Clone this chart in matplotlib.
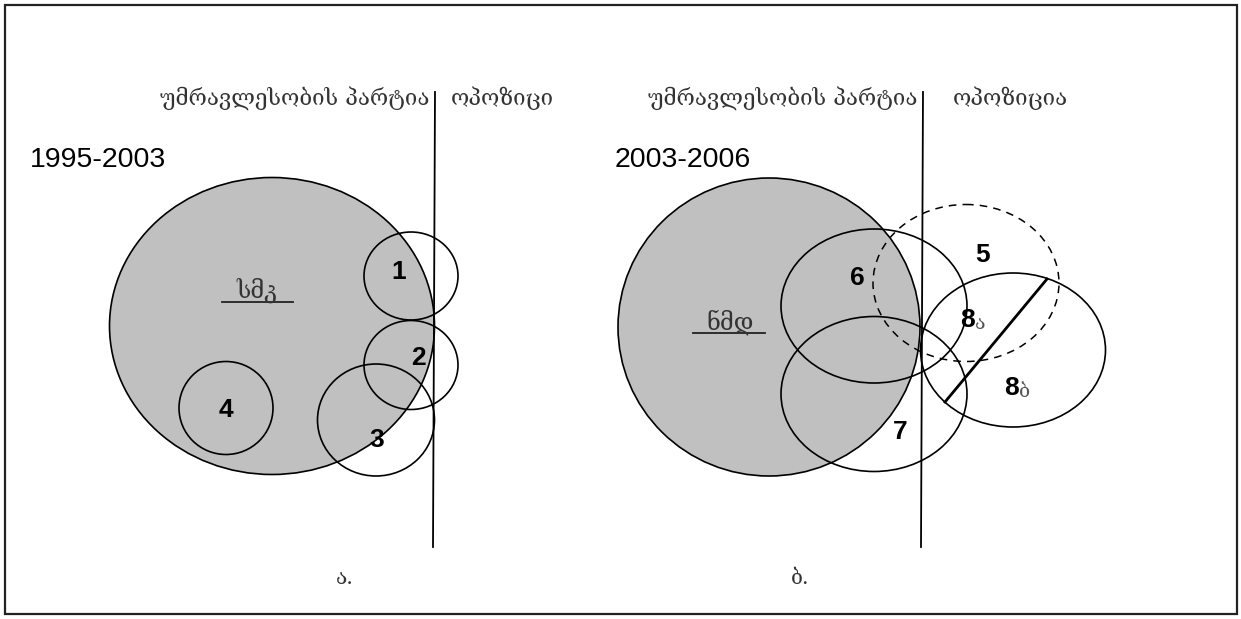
import matplotlib.pyplot as plt
from matplotlib.patches import Ellipse, Rectangle

# panel a (1995-2003) -- ellipses: centre x, centre y, width, height (image pixels)
left_big = (272, 326, 325, 297)
left_ids = ["1", "2", "3", "4"]
left_circles = [(411, 276, 94, 88), (411, 365, 94, 89), (376, 420, 117, 112), (226, 408, 94, 93)]
left_label_xy = [(399, 272), (418, 358), (377, 440), (226, 410)]

# panel b (2003-2006)
right_big = (769, 327, 302, 298)
right_circles = [(874, 306, 186, 154), (874, 394, 186, 155), (1013, 350, 185, 154)]
dashed_circle = (966, 283, 186, 157)
right_labels = ["5", "6", "7"]
right_label_xy = [(983, 255), (857, 278), (900, 432)]
split_labels = [("8", "ა", 975, 320), ("8", "ბ", 1019, 388)]
split_line = [(1047, 279), (945, 402)]

header_left = "უმრავლესობის პარტია"
header_opp = ["ოპოზიცი", "ოპოზიცია"]
periods = ["1995-2003", "2003-2006"]
party_names = ["სმკ", "ნმდ"]
panel_tags = ["ა.", "ბ."]

W, H = 1241, 619
fig = plt.figure(figsize=(W / 100, H / 100), dpi=100)
ax = fig.add_axes([0, 0, 1, 1])
ax.set_xlim(0, W)
ax.set_ylim(H, 0)
ax.axis("off")

geo = ["DejaVu Serif"]
num = ["Liberation Sans", "DejaVu Sans"]

ax.add_patch(Rectangle((4.5, 5), 1232, 609, fill=False, lw=1.6, ec="#222222"))

# gray party ellipses
for cx, cy, w, h in [left_big, right_big]:
    ax.add_patch(Ellipse((cx, cy), w, h, fc="#c0c0c0", ec="black", lw=1.2))

for cx, cy, w, h in left_circles + right_circles:
    ax.add_patch(Ellipse((cx, cy), w, h, fc="none", ec="black", lw=1.2))
cx, cy, w, h = dashed_circle
ax.add_patch(Ellipse((cx, cy), w, h, fc="none", ec="black", lw=1.1, ls=(0, (5, 4))))

(x0, y0), (x1, y1) = split_line
ax.plot([x0, x1], [y0, y1], color="black", lw=2)

# government / opposition dividers
ax.plot([435, 433], [92, 547], color="black", lw=1.3)
ax.plot([923, 921], [92, 547], color="black", lw=1.3)

for t, (x, y) in zip(left_ids, left_label_xy):
    ax.text(x, y, t, fontsize=19, fontweight="bold", family=num, ha="center", va="center")
for t, (x, y) in zip(right_labels, right_label_xy):
    ax.text(x, y, t, fontsize=19, fontweight="bold", family=num, ha="center", va="center")
for n, s, x, y in split_labels:
    ax.text(x, y, n, fontsize=19, fontweight="bold", family=num, ha="right", va="center")
    ax.text(x, y + 4, s, fontsize=14, family=geo, color="#555555", ha="left", va="center")

ax.text(30, 160, periods[0], fontsize=20.5, family=num, ha="left", va="center")
ax.text(615, 160, periods[1], fontsize=20.5, family=num, ha="left", va="center")

ax.text(295, 98, header_left, fontsize=16, family=geo, color="#333333", ha="center", va="center")
ax.text(783, 98, header_left, fontsize=16, family=geo, color="#333333", ha="center", va="center")
ax.text(502, 98, header_opp[0], fontsize=16, family=geo, color="#333333", ha="center", va="center")
ax.text(1010, 98, header_opp[1], fontsize=16, family=geo, color="#333333", ha="center", va="center")

ax.text(257, 290, party_names[0], fontsize=17, family=geo, color="#333333", ha="center", va="center")
ax.plot([222, 293], [302, 302], color="#222222", lw=1.3)
ax.text(730, 322, party_names[1], fontsize=17, family=geo, color="#333333", ha="center", va="center")
ax.plot([693, 765], [333, 333], color="#222222", lw=1.3)

ax.text(345, 578, panel_tags[0], fontsize=15, family=geo, color="#333333", ha="center", va="center")
ax.text(800, 578, panel_tags[1], fontsize=15, family=geo, color="#333333", ha="center", va="center")

fig.savefig("out.png", dpi=100)
